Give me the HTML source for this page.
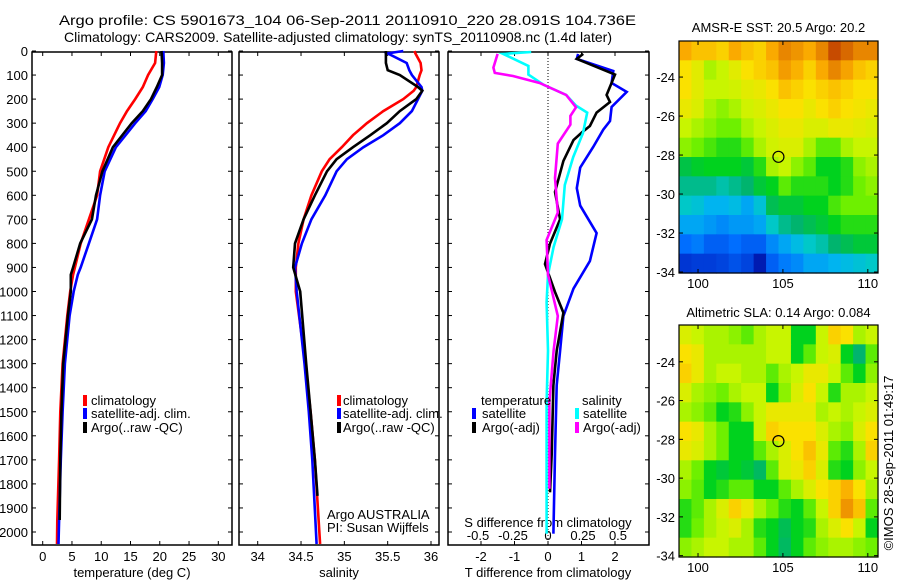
<!DOCTYPE html>
<html><head><meta charset="utf-8">
<style>
html,body{margin:0;padding:0;background:#fff;}
svg{display:block;font-family:"Liberation Sans",sans-serif;}
</style></head>
<body>
<svg id="fig" width="900" height="580" viewBox="0 0 900 580" xmlns="http://www.w3.org/2000/svg">
<rect width="900" height="580" fill="#fff"/>
<text x="59" y="25" font-size="14" textLength="577" lengthAdjust="spacingAndGlyphs">Argo profile: CS 5901673_104 06-Sep-2011 20110910_220 28.091S 104.736E</text>
<text x="64" y="42" font-size="14" textLength="548" lengthAdjust="spacingAndGlyphs">Climatology: CARS2009. Satellite-adjusted climatology: synTS_20110908.nc (1.4d later)</text>
<g id="g"></g>
</svg>
<script>
// ---------- data ----------
const tDepth = [0,50,100,150,200,250,300,400,500,600,700,800,900,930,1000,1100,1300,1500,1700,1950,2050];
const tClim  = [19.4,19.2,18.0,17.1,15.8,14.4,13.2,11.2,9.8,9.3,7.9,6.5,5.5,5.2,4.7,4.2,3.4,3.0,2.8,2.5,2.45];
const tSat   = [20.6,20.7,20.5,19.9,18.8,17.6,15.8,12.5,10.6,9.8,9.3,7.9,6.5,6.0,5.3,4.6,3.8,3.4,3.1,2.8,2.7];
const argoTDepth = [0,50,100,150,200,250,300,400,500,600,700,800,900,930,1000,1100,1300,1500,1700,1950];
const tArgo  = [20.3,20.4,20.4,19.5,18.5,17.1,15.2,12.0,10.2,9.1,8.4,6.4,5.2,4.8,4.8,4.3,3.5,3.2,3.0,2.9];

const sDepth = [0,10,50,80,100,150,165,200,250,300,350,400,450,500,600,700,800,900,1000,1300,1500,1700,2050];
const sClim  = [35.81,35.82,35.88,35.89,35.87,35.83,35.80,35.68,35.45,35.26,35.10,34.97,34.83,34.74,34.62,34.53,34.47,34.44,34.44,34.55,34.61,34.66,34.72];
const sSat   = [35.68,35.50,35.72,35.75,35.78,35.89,35.90,35.85,35.78,35.64,35.45,35.22,35.03,34.91,34.78,34.62,34.51,34.43,34.45,34.54,34.59,34.63,34.68];
const argoSDepth = [0,50,80,100,150,165,200,250,300,350,400,450,500,600,700,800,900,1000,1300,1500,1700,1850];
const sArgo  = [35.48,35.48,35.50,35.64,35.85,35.90,35.83,35.64,35.49,35.30,35.10,34.91,34.80,34.66,34.53,34.43,34.41,34.49,34.56,34.61,34.66,34.69];

const dTSatDepth = [12,33,83,133,170,233,291,327,399,485,570,643,757,873,988,1102,1246,1389,1677,2007];
const dTSat      = [0.9,0.86,1.95,1.9,2.35,1.9,1.85,1.65,1.35,0.96,0.86,0.96,1.45,1.25,0.76,0.46,0.36,0.26,0.21,0.16];
const dTArgoDepth = [12,33,98,183,212,256,312,334,370,457,586,700,801,886,1002,1088,1246,1389,1677,1835];
const dTArgo      = [1.05,0.86,2.0,1.75,1.85,1.45,1.25,1.05,0.76,0.46,0.21,0.36,0.06,-0.09,0.21,0.46,0.26,0.16,0.11,0.06];
const dSSatDepth = [4,12,62,98,141,183,227,256,341,441,557,700,815,930,1044,1246,1460,2007];
const dSSat      = [-0.12,-0.32,-0.14,-0.14,-0.03,0.13,0.2,0.28,0.25,0.18,0.12,0.1,0.04,0.0,-0.01,0.0,-0.01,-0.01];
const dSArgoDepth = [12,69,91,104,133,183,234,270,306,385,528,672,786,930,1102,1246,1460,1820];
const dSArgo      = [-0.36,-0.39,-0.38,-0.25,-0.06,0.13,0.2,0.16,0.16,0.07,0.05,0.07,-0.01,0.0,0.07,0.04,0.01,0.01];

const depthTicks = [0,100,200,300,400,500,600,700,800,900,1000,1100,1200,1300,1400,1500,1600,1700,1800,1900,2000];
const tempTicks = [0,5,10,15,20,25,30];
const salTicks = [34,34.5,35,35.5,36];
const tDiffTicks = [-2,-1,0,1,2];
const sDiffTicks = [-0.5,-0.25,0,0.25,0.5];
const lonTicks = [100,105,110];
const latTicks = [-24,-26,-28,-30,-32,-34];

// map grids (normalised colour index 0..1), rows north->south, cols west->east
const sstGrid = [
[0.75,0.72,0.72,0.7,0.75,0.72,0.7,0.75,0.8,0.78,0.75,0.8,0.88,0.84,0.8,0.8],
[0.68,0.65,0.6,0.62,0.65,0.68,0.7,0.72,0.77,0.74,0.7,0.75,0.8,0.76,0.72,0.7],
[0.68,0.65,0.62,0.62,0.63,0.65,0.66,0.68,0.72,0.7,0.68,0.7,0.72,0.7,0.68,0.68],
[0.66,0.64,0.6,0.58,0.6,0.63,0.64,0.66,0.68,0.68,0.66,0.68,0.7,0.68,0.67,0.66],
[0.62,0.6,0.58,0.56,0.56,0.6,0.62,0.64,0.66,0.66,0.64,0.64,0.66,0.66,0.65,0.64],
[0.58,0.56,0.54,0.52,0.52,0.55,0.6,0.63,0.64,0.64,0.6,0.55,0.55,0.6,0.62,0.62],
[0.47,0.49,0.5,0.5,0.5,0.48,0.52,0.6,0.62,0.58,0.55,0.5,0.5,0.52,0.58,0.6],
[0.42,0.42,0.42,0.4,0.42,0.44,0.48,0.5,0.55,0.52,0.52,0.52,0.5,0.52,0.56,0.58],
[0.38,0.36,0.32,0.32,0.34,0.3,0.36,0.46,0.48,0.48,0.5,0.5,0.54,0.56,0.56,0.56],
[0.3,0.3,0.28,0.26,0.28,0.28,0.3,0.38,0.42,0.44,0.46,0.48,0.5,0.52,0.52,0.52],
[0.22,0.24,0.2,0.2,0.22,0.2,0.2,0.26,0.3,0.34,0.38,0.4,0.44,0.46,0.48,0.48],
[0.14,0.15,0.15,0.16,0.18,0.16,0.08,0.2,0.24,0.26,0.3,0.3,0.32,0.34,0.36,0.38]];
const slaGrid = [
[0.64,0.62,0.6,0.6,0.58,0.55,0.6,0.62,0.62,0.5,0.5,0.62,0.7,0.68,0.6,0.62],
[0.68,0.66,0.6,0.6,0.6,0.6,0.6,0.62,0.62,0.5,0.55,0.62,0.64,0.5,0.44,0.55],
[0.7,0.66,0.6,0.62,0.62,0.6,0.6,0.55,0.6,0.62,0.66,0.66,0.62,0.55,0.5,0.58],
[0.64,0.6,0.58,0.56,0.6,0.62,0.62,0.5,0.58,0.64,0.68,0.62,0.52,0.6,0.6,0.62],
[0.6,0.58,0.55,0.5,0.52,0.58,0.62,0.66,0.66,0.66,0.66,0.6,0.62,0.6,0.62,0.64],
[0.68,0.66,0.6,0.56,0.5,0.5,0.62,0.7,0.68,0.68,0.68,0.64,0.6,0.58,0.64,0.68],
[0.66,0.64,0.6,0.56,0.5,0.5,0.55,0.6,0.64,0.68,0.72,0.66,0.55,0.52,0.6,0.7],
[0.6,0.56,0.5,0.48,0.5,0.48,0.45,0.55,0.64,0.66,0.7,0.64,0.52,0.5,0.58,0.62],
[0.58,0.55,0.5,0.52,0.55,0.55,0.5,0.5,0.55,0.6,0.64,0.68,0.7,0.74,0.68,0.6],
[0.52,0.55,0.6,0.64,0.7,0.66,0.6,0.56,0.52,0.5,0.55,0.62,0.7,0.78,0.72,0.55],
[0.52,0.56,0.6,0.62,0.64,0.6,0.52,0.5,0.46,0.5,0.52,0.6,0.64,0.68,0.62,0.5],
[0.58,0.6,0.62,0.62,0.6,0.6,0.55,0.5,0.45,0.5,0.55,0.58,0.6,0.6,0.58,0.56]];
const argoLon = 104.736, argoLat = -28.091;

// ---------- drawing ----------
const NS='http://www.w3.org/2000/svg';
const G=document.getElementById('g');
function el(tag,attrs,parent){const e=document.createElementNS(NS,tag);for(const k in attrs)e.setAttribute(k,attrs[k]);(parent||G).appendChild(e);return e;}
function lin(d0,d1,r0,r1){return v=>r0+(v-d0)*(r1-r0)/(d1-d0);}
const yD = lin(0,2000,51,532);
const TOP=52,BOT=545;

function frame(x0,x1,name){
  const r=el('rect',{x:x0,y:TOP,width:x1-x0,height:BOT-TOP,fill:'none',stroke:'#000','stroke-width':1.5});
  
  
}
function profile(depths,vals,xf,color,name,w){
  const pts=depths.map((d,i)=>xf(vals[i]).toFixed(1)+','+yD(d).toFixed(1)).join(' ');
  const p=el('polyline',{points:pts,fill:'none',stroke:color,'stroke-width':w||2.6,'stroke-linejoin':'miter'});
  
  
}
function depthTickMarks(x0,x1,labels){
  depthTicks.forEach(d=>{
    const y=yD(d);
    el('line',{x1:x0,y1:y,x2:x0+4,y2:y,stroke:'#000'});
    el('line',{x1:x1,y1:y,x2:x1-4,y2:y,stroke:'#000'});
    if(labels){const t=el('text',{x:28,y:y+5,'font-size':13,'text-anchor':'end'});t.textContent=d;
      
      }
  });
}
function xTicks(ticks,xf,y,fmt,name,labels){
  ticks.forEach(v=>{
    const x=xf(v);
    if(labels!==false){
      el('line',{x1:x,y1:BOT,x2:x,y2:BOT-4,stroke:'#000'});
      el('line',{x1:x,y1:TOP,x2:x,y2:TOP+4,stroke:'#000'});
    }
    const t=el('text',{x:x,y:y,'font-size':13,'text-anchor':'middle'});t.textContent=fmt?fmt(v):v;
    
    
  });
}
function label(x,y,txt,name,anchor,size){
  const t=el('text',{x:x,y:y,'font-size':size||13,'text-anchor':anchor||'start'});t.textContent=txt;
  
  
  return t;
}
function swatch(x,y,color,name){
  const r=el('rect',{x:x,y:y-10,width:4,height:11,fill:color});
  
  
}

// Panel 1: temperature
const xT=lin(0,30,42.7,218.3);
frame(32,232,'temperature-panel');
depthTickMarks(32,232,true);
xTicks(tempTicks,xT,561,null,'temperature-tick-label');
label(132,577,'temperature (deg C)','temperature-axis-title','middle');
profile(tDepth,tClim,xT,'#ff0000','temp-climatology-line');
profile(tDepth,tSat,xT,'#0000ff','temp-satellite-line');
profile(argoTDepth,tArgo,xT,'#000000','temp-argo-line');
swatch(83,405,'#ff0000','legend-swatch-climatology');label(91,405,'climatology','legend-climatology');
swatch(83,418,'#0000ff','legend-swatch-satellite');label(91,418,'satellite-adj. clim.','legend-satellite');
swatch(83,432,'#000000','legend-swatch-argo');label(91,432,'Argo(..raw -QC)','legend-argo');

// Panel 2: salinity
const xS=lin(34,36,257.7,431);
frame(239,439,'salinity-panel');
depthTickMarks(239,439,false);
xTicks(salTicks,xS,561,null,'salinity-tick-label');
label(339,577,'salinity','salinity-axis-title','middle');
profile(sDepth,sClim,xS,'#ff0000','sal-climatology-line');
profile(sDepth,sSat,xS,'#0000ff','sal-satellite-line');
profile(argoSDepth,sArgo,xS,'#000000','sal-argo-line');
swatch(337,405,'#ff0000','legend2-swatch-climatology');label(343,405,'climatology','legend2-climatology');
swatch(337,418,'#0000ff','legend2-swatch-satellite');label(343,418,'satellite-adj. clim.','legend2-satellite');
swatch(337,432,'#000000','legend2-swatch-argo');label(343,432,'Argo(..raw -QC)','legend2-argo');
label(327,519,'Argo AUSTRALIA','credit-argo-australia');
label(327,532,'PI: Susan Wijffels','credit-pi');

// Panel 3: differences
const xDT=lin(0,1,548,581.5);
const xDS=lin(0,1,548,688);
frame(448,649,'difference-panel');
depthTickMarks(448,649,false);
el('line',{x1:548,y1:TOP,x2:548,y2:BOT,stroke:'#000','stroke-dasharray':'1,2'});
xTicks(tDiffTicks,xDT,561,null,'t-diff-tick-label');
xTicks(sDiffTicks,xDS,540,null,'s-diff-tick-label',false);
label(548,527,'S difference from climatology','s-diff-axis-title','middle');
label(548,577,'T difference from climatology','t-diff-axis-title','middle');
profile(dTSatDepth,dTSat,xDT,'#0000ff','t-diff-satellite-line');
profile(dTArgoDepth,dTArgo,xDT,'#000000','t-diff-argo-line');
profile(dSSatDepth,dSSat,xDS,'#00ffff','s-diff-satellite-line');
profile(dSArgoDepth,dSArgo,xDS,'#ff00ff','s-diff-argo-line');
label(481,405,'temperature','legend3-temperature-header');
swatch(472,418,'#0000ff','legend3-swatch-t-sat');label(482,418,'satellite','legend3-t-satellite');
swatch(472,432,'#000000','legend3-swatch-t-argo');label(482,432,'Argo(-adj)','legend3-t-argo');
label(582,405,'salinity','legend3-salinity-header');
swatch(575,418,'#00ffff','legend3-swatch-s-sat');label(583,418,'satellite','legend3-s-satellite');
swatch(575,432,'#ff00ff','legend3-swatch-s-argo');label(583,432,'Argo(-adj)','legend3-s-argo');

// colormap sampled from reference
const cmapStops=[0,0.12,0.22,0.32,0.38,0.44,0.5,0.56,0.62,0.68,0.75,0.82,0.9,1.0];
const cmapColors=[[0,0,130],[0,40,200],[0,110,255],[0,180,240],[0,200,200],[0,180,110],[0,210,30],[110,240,0],[200,245,0],[250,225,0],[250,170,0],[225,120,0],[190,60,0],[150,20,0]];
function cmap(v){
  v=Math.max(0,Math.min(1,v));
  let i=0;while(i<cmapStops.length-2&&v>cmapStops[i+1])i++;
  const t=(v-cmapStops[i])/(cmapStops[i+1]-cmapStops[i]);
  const a=cmapColors[i],b=cmapColors[i+1];
  return 'rgb('+a.map((c,k)=>Math.round(c+(b[k]-c)*t)).join(',')+')';
}
function map(grid,x0,x1,y0,y1,latTop,latBot,name,title,titleY){
  const lonL=98.88,lonR=110.6;
  const xf=lin(lonL,lonR,x0,x1), yf=lin(latTop,latBot,y0,y1);
  const rows=grid.length, cols=grid[0].length;
  const cw=(x1-x0)/cols, ch=(y1-y0)/rows;
  const g=el('g',{});
  
  
  grid.forEach((row,i)=>row.forEach((v,j)=>{
    const c=el('rect',{x:(x0+j*cw).toFixed(2),y:(y0+i*ch).toFixed(2),width:(cw+0.6).toFixed(2),height:(ch+0.6).toFixed(2),fill:cmap(v)},g);
    
    
  }));
  const f=el('rect',{x:x0,y:y0,width:x1-x0,height:y1-y0,fill:'none',stroke:'#000','stroke-width':1.2});
  
  
  lonTicks.forEach(l=>{const x=xf(l);
    el('line',{x1:x,y1:y1,x2:x,y2:y1-4,stroke:'#000'});
    el('line',{x1:x,y1:y0,x2:x,y2:y0+4,stroke:'#000'});
    label(x,y1+15,l,name+'-lon-tick-label','middle');});
  latTicks.forEach(l=>{const y=yf(l);
    el('line',{x1:x0,y1:y,x2:x0+4,y2:y,stroke:'#000'});
    el('line',{x1:x1,y1:y,x2:x1-4,y2:y,stroke:'#000'});
    label(x0-4,y+5,l,name+'-lat-tick-label','end');});
  const c=el('circle',{cx:xf(argoLon),cy:yf(argoLat),r:5.5,fill:'none',stroke:'#000','stroke-width':1.2});
  
  
  label((x0+x1)/2,titleY,title,name+'-title','middle');
}
map(sstGrid,679,878,41,273,-22.15,-34.05,'sst-map','AMSR-E SST: 20.5 Argo: 20.2',32);
map(slaGrid,679,878,325,557,-22.1,-34.07,'sla-map','Altimetric SLA: 0.14 Argo: 0.084',317);

const cr=label(0,0,'©IMOS 28-Sep-2011 01:49:17','imos-credit','middle',13);
cr.setAttribute('transform','translate(893,463) rotate(-90)');
</script>
</body></html>
